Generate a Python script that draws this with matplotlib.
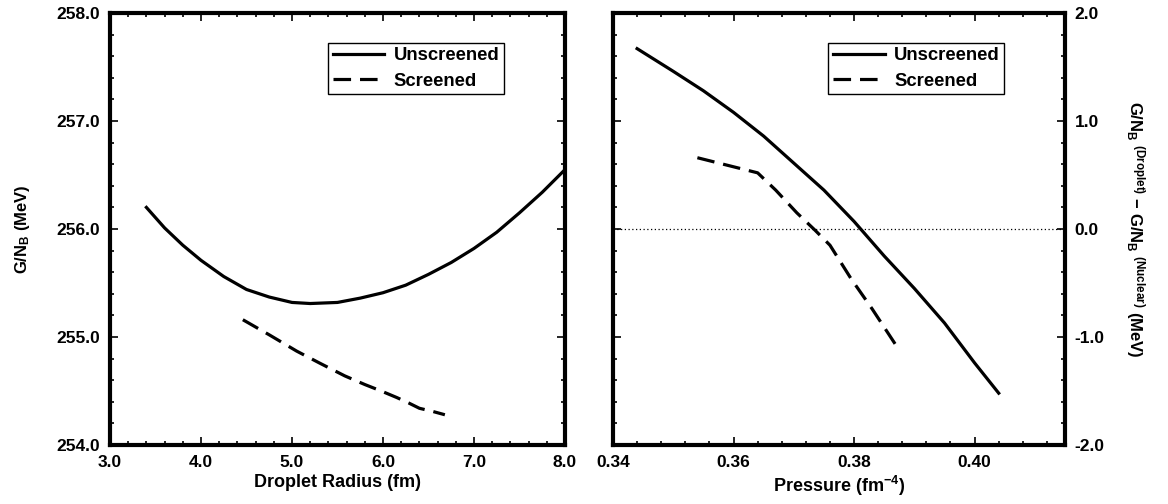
import numpy as np
import matplotlib.pyplot as plt
from matplotlib.ticker import AutoMinorLocator, FormatStrFormatter

plt.rcParams['font.family'] = ['Liberation Sans', 'DejaVu Sans']
plt.rcParams['font.weight'] = 'bold'
plt.rcParams['axes.labelweight'] = 'bold'
plt.rcParams['mathtext.fontset'] = 'custom'
plt.rcParams['mathtext.rm'] = 'Liberation Sans:bold'
plt.rcParams['mathtext.it'] = 'Liberation Sans:bold'
plt.rcParams['mathtext.bf'] = 'Liberation Sans:bold'
plt.rcParams['axes.unicode_minus'] = True

# free energy per baryon vs droplet radius
radius_unscr = [3.4, 3.6, 3.8, 4.0, 4.25, 4.5, 4.75, 5.0, 5.2, 5.5, 5.75,
                6.0, 6.25, 6.5, 6.75, 7.0, 7.25, 7.5, 7.75, 8.0]
g_unscr = [256.20, 256.01, 255.85, 255.71, 255.56, 255.44, 255.37, 255.32,
           255.31, 255.32, 255.36, 255.41, 255.48, 255.58, 255.69, 255.82,
           255.97, 256.15, 256.34, 256.55]
radius_scr = [4.46, 4.75, 5.05, 5.3, 5.58, 5.8, 5.98, 6.15, 6.28, 6.4, 6.55, 6.68]
g_scr = [255.16, 255.02, 254.87, 254.76, 254.64, 254.56, 254.50, 254.44,
         254.39, 254.34, 254.31, 254.28]

# droplet minus nuclear phase vs pressure
p_unscr = [0.344, 0.350, 0.355, 0.360, 0.365, 0.370, 0.375, 0.380,
           0.385, 0.390, 0.395, 0.400, 0.404]
dg_unscr = [1.67, 1.46, 1.28, 1.08, 0.86, 0.61, 0.36, 0.07,
            -0.25, -0.55, -0.87, -1.24, -1.52]
p_scr = [0.354, 0.359, 0.364, 0.367, 0.3705, 0.3735, 0.376, 0.3795, 0.383, 0.387]
dg_scr = [0.66, 0.59, 0.52, 0.36, 0.15, -0.01, -0.15, -0.46, -0.74, -1.08]

fig = plt.figure(figsize=(11.68, 5.04), dpi=100)
ax1 = fig.add_axes([110/1168, 1 - 445/504, 455/1168, 432/504])
ax2 = fig.add_axes([613/1168, 1 - 445/504, 452/1168, 432/504])

lw = 2.3
dash = (0, (5.5, 2.8))

ax1.plot(radius_unscr, g_unscr, color='black', lw=lw, label='Unscreened')
ax1.plot(radius_scr, g_scr, color='black', lw=lw, ls=dash, label='Screened')
ax1.set_xlim(3.0, 8.0)
ax1.set_ylim(254.0, 258.0)
ax1.set_xticks([3, 4, 5, 6, 7, 8])
ax1.set_yticks([254, 255, 256, 257, 258])
ax1.xaxis.set_major_formatter(FormatStrFormatter('%.1f'))
ax1.yaxis.set_major_formatter(FormatStrFormatter('%.1f'))
ax1.set_xlabel('Droplet Radius (fm)', fontsize=13, labelpad=3)
ax1.set_ylabel(r'G/N$_{\mathregular{B}}$ (MeV)', fontsize=12, labelpad=18)

ax2.plot(p_unscr, dg_unscr, color='black', lw=lw, label='Unscreened')
ax2.plot(p_scr, dg_scr, color='black', lw=lw, ls=dash, label='Screened')
ax2.axhline(0.0, color='black', lw=0.9, ls=(0, (1, 2)))
ax2.set_xlim(0.34, 0.415)
ax2.set_ylim(-2.0, 2.0)
ax2.set_xticks([0.34, 0.36, 0.38, 0.40])
ax2.set_yticks([-2, -1, 0, 1, 2])
ax2.xaxis.set_major_formatter(FormatStrFormatter('%.2f'))
ax2.yaxis.set_major_formatter(FormatStrFormatter('%.1f'))
ax2.yaxis.set_label_position('right')
ax2.set_xlabel(r'Pressure (fm$^{\mathregular{-4}}$)', fontsize=13, labelpad=3)
ax2.set_ylabel(r'G/N$_{\mathregular{B}}$ $^{\mathregular{(Droplet)}}$ $-$ '
               r'G/N$_{\mathregular{B}}$ $^{\mathregular{(Nuclear)}}$ (MeV)',
               fontsize=12, labelpad=14, rotation=270, va='bottom')

for ax in (ax1, ax2):
    for s in ax.spines.values():
        s.set_linewidth(3.0)
    ax.xaxis.set_minor_locator(AutoMinorLocator(5))
    ax.yaxis.set_minor_locator(AutoMinorLocator(5))
    ax.tick_params(which='both', direction='in', top=True, right=True,
                   labelsize=12.5, width=1.2, pad=7)
    ax.tick_params(which='major', length=6)
    ax.tick_params(which='minor', length=3)
    leg = ax.legend(loc='upper right', bbox_to_anchor=(0.866, 0.931),
                    fontsize=13.3, handlelength=2.8, handletextpad=0.5,
                    borderpad=0.25, labelspacing=0.45, fancybox=False,
                    framealpha=1, edgecolor='black', borderaxespad=0)
    leg.get_frame().set_linewidth(1.0)

ax2.tick_params(axis='y', which='both', labelleft=False, labelright=True)

fig.savefig('out.png', dpi=100)
